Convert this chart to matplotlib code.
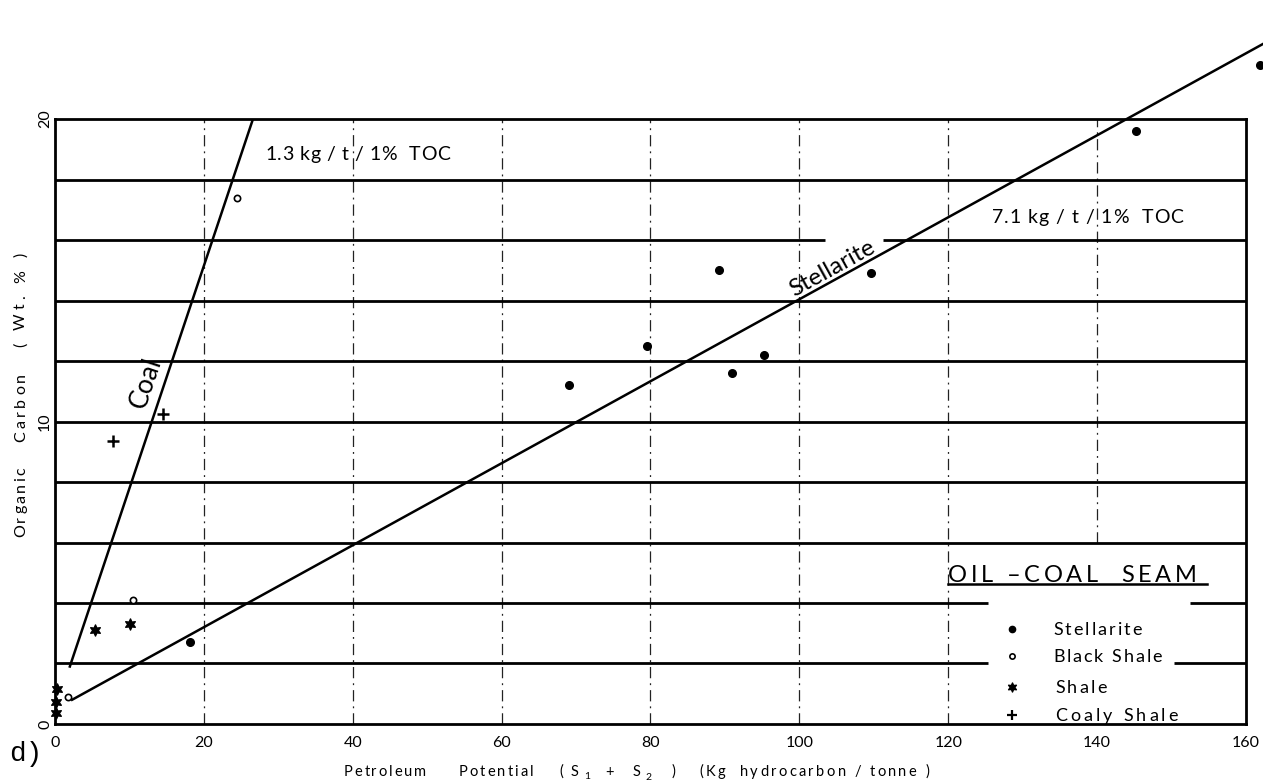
import matplotlib
matplotlib.use("Agg")
import matplotlib.pyplot as plt
from matplotlib.path import Path
from matplotlib.font_manager import FontProperties

# ---- data ----
stellarite_x = [18.2, 69.0, 79.6, 89.2, 90.9, 95.2, 109.6, 145.2, 161.9]
stellarite_y = [2.7, 11.2, 12.5, 15.0, 11.6, 12.2, 14.9, 19.6, 21.8]

black_shale_x = [24.5, 10.5, 1.8]
black_shale_y = [17.4, 4.1, 0.9]

shale_x = [5.4, 10.1, 0.3, 0.2, 0.1]
shale_y = [3.1, 3.3, 1.15, 0.73, 0.36]

coaly_shale_x = [7.8, 14.5]
coaly_shale_y = [9.35, 10.25]

# trend lines (end points)
coal_line_x = [2.0, 26.6]
coal_line_y = [1.9, 20.0]
stellarite_line_x = [2.3, 162.4]
stellarite_line_y = [0.8, 22.5]

x_ticks = [0, 20, 40, 60, 80, 100, 120, 140, 160]
y_ticks = [0, 10, 20]
legend_labels = ["Stellarite", "Black Shale", "Shale", "Coaly Shale"]

FONT = "Lato"
W, H = 1263, 781

fig = plt.figure(figsize=(W / 100, H / 100), dpi=100)
ax = fig.add_axes([0.0435, 0.073, 0.943, 0.7745])
ax.set_xlim(0, 160)
ax.set_ylim(0, 20)
renderer = fig.canvas.get_renderer()


def advances(s, prop):
    base = renderer.get_text_width_height_descent("II", prop, ismath=False)[0]
    return [renderer.get_text_width_height_descent("I" + c + "I", prop,
                                                    ismath=False)[0] - base
            for c in s]


def spread_text(s, start, end, base, size, vertical=False, family=FONT):
    """Letter-spaced text laid out between two pixel positions (top-left origin)."""
    prop = FontProperties(family=family, size=size)
    adv = advances(s, prop)
    gap = (abs(end - start) - sum(adv)) / max(len(s) - 1, 1)
    step = -1 if vertical else 1
    pos = start
    for c, a in zip(s, adv):
        if not c.isspace():
            if vertical:
                fig.text(base / W, 1 - pos / H, c, fontproperties=prop,
                         rotation=90, rotation_mode="anchor",
                         ha="left", va="baseline")
            else:
                fig.text(pos / W, 1 - base / H, c, fontproperties=prop,
                         ha="left", va="baseline")
        pos += step * (a + gap)


# six-pointed star marker
star6 = Path.unit_regular_star(6, 0.5)

# horizontal rules every 2 %, some interrupted around labels
gaps = {16: (103.5, 111.3), 4: (125.3, 152.5), 2: (125.3, 150.3)}
for yv in range(2, 20, 2):
    if yv in gaps:
        a, b = gaps[yv]
        ax.hlines(yv, 0, a, color="black", lw=2.0, zorder=2)
        ax.hlines(yv, b, 160, color="black", lw=2.0, zorder=2)
    else:
        ax.hlines(yv, 0, 160, color="black", lw=2.0, zorder=2)

# vertical broken rules every 20 units (the 140 one stops above the key)
for xv in x_ticks[1:-1]:
    y_low = 6 if xv == 140 else 0
    ax.vlines(xv, y_low, 20, color="#222222", lw=0.9,
              linestyles=[(0, (9, 4, 1.5, 4))], zorder=1)

for s in ["left", "bottom", "top", "right"]:
    ax.spines[s].set_linewidth(2.0)

# trend lines
ax.plot(coal_line_x, coal_line_y, color="black", lw=1.8, zorder=3)
ax.plot(stellarite_line_x, stellarite_line_y, color="black", lw=1.8,
        zorder=3, clip_on=False)

# samples
ax.plot(stellarite_x, stellarite_y, "o", color="black", ms=5.5,
        zorder=4, clip_on=False)
ax.plot(black_shale_x, black_shale_y, "o", mfc="white", mec="black",
        mew=1.2, ms=4.5, zorder=4)
ax.plot(shale_x, shale_y, marker=star6, ls="none", color="black", ms=8,
        zorder=4, clip_on=False)
ax.plot(coaly_shale_x, coaly_shale_y, "+", color="black", ms=9, mew=1.8,
        zorder=4)

# ticks
ax.set_xticks(x_ticks)
ax.set_xticklabels([str(v) for v in x_ticks], fontsize=11.5, family=FONT)
ax.set_yticks(y_ticks)
ax.set_yticklabels([str(v) for v in y_ticks], fontsize=11.5, family=FONT,
                   rotation=90, va="center")
ax.tick_params(axis="x", length=0, pad=9)
ax.tick_params(axis="y", length=0, pad=2)

# x axis title
spread_text("Petroleum", 344, 426, 776, 10.5)
spread_text("Potential", 459, 533, 776, 10.5)
spread_text("(Kg  hydrocarbon / tonne )", 699, 929, 776, 10.5)
for ch, px, base, size in [("(", 559, 776, 10.5), ("S", 571, 776, 10.5),
                           ("1", 584, 779, 7.5), ("+", 605, 776, 10.5),
                           ("S", 633, 776, 10.5), ("2", 645, 780, 7.5),
                           (")", 672, 776, 10.5)]:
    fig.text(px / W, 1 - base / H, ch, family=FONT, fontsize=size,
             ha="left", va="baseline")

# y axis title
spread_text("Organic", 537, 467, 25, 11.5, vertical=True)
spread_text("Carbon", 442, 373, 25, 11.5, vertical=True)
spread_text("( Wt. % )", 347, 253, 25, 11.5, vertical=True)

# line annotations
spread_text("1.3 kg / t / 1%  TOC", 265, 450, 160, 14)
spread_text("7.1 kg / t / 1%  TOC", 992, 1183, 223, 14)
ax.text(12.2, 11.27, "Coal", fontsize=19, family=FONT, rotation=71.5,
        ha="center", va="center")
ax.text(104.4, 15.07, "Stellarite", fontsize=17.5, family=FONT,
        rotation=28.9, ha="center", va="center")

# panel key
spread_text("OIL \u2013COAL  SEAM", 948, 1197, 582, 17)
ax.plot([120.0, 154.8], [4.63, 4.63], color="black", lw=1.8, zorder=3)

key_x = 128.6
key_y = [3.14, 2.25, 1.22, 0.30]
ax.plot(key_x, key_y[0], "o", color="black", ms=4.5)
ax.plot(key_x, key_y[1], "o", mfc="white", mec="black", mew=1.2, ms=3.8)
ax.plot(key_x, key_y[2], marker=star6, color="black", ms=6.5)
ax.plot(key_x, key_y[3], "+", color="black", ms=7, mew=1.6)
key_text = [(1053, 1142, 635), (1053, 1162, 662), (1055, 1107, 693),
            (1055, 1178, 721)]
for (x0, x1, base), lab in zip(key_text, legend_labels):
    spread_text(lab, x0, x1, base, 13)

fig.text(0.007, 0.035, "d)", fontsize=20, family="Liberation Mono",
         ha="left", va="center")

fig.savefig("out.png", dpi=100, facecolor="white")
